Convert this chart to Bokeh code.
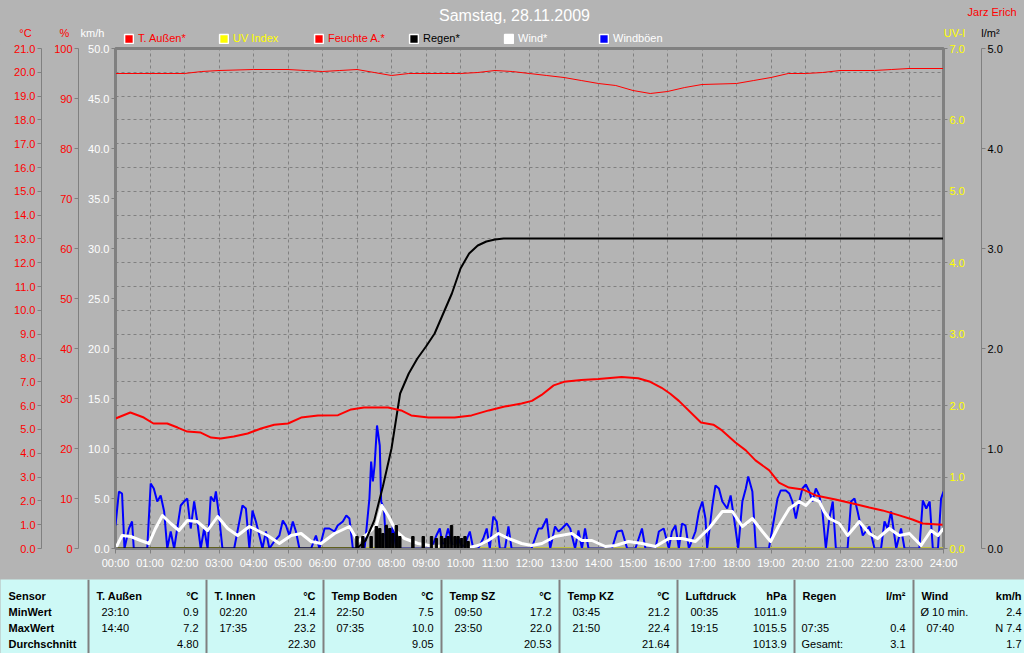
from bokeh.plotting import figure
from bokeh.models import (Range1d, LinearAxis, SingleIntervalTicker, FixedTicker,
                          PrintfTickFormatter, Label, Legend, LegendItem, Grid)
from bokeh.layouts import column
from bokeh.embed import file_html
from bokeh.resources import INLINE
from bokeh.core.properties import value

# ---------------- data ----------------
hour_ticks = [0, 1, 2, 3, 4, 5, 6, 7, 8, 9, 10, 11, 12, 13, 14, 15, 16, 17, 18, 19, 20, 21, 22, 23, 24]
hour_labels = ["00:00", "01:00", "02:00", "03:00", "04:00", "05:00", "06:00", "07:00", "08:00",
               "09:00", "10:00", "11:00", "12:00", "13:00", "14:00", "15:00", "16:00", "17:00",
               "18:00", "19:00", "20:00", "21:00", "22:00", "23:00", "24:00"]

# T. Außen (°C)
temp_t = [0.0, 0.43, 0.82, 1.1, 1.5, 1.8, 2.08, 2.47, 2.77, 3.05, 3.43, 3.83, 4.22, 4.6, 5.0, 5.38,
          5.87, 6.45, 6.83, 7.2, 7.9, 8.28, 8.57, 9.07, 9.83, 10.32, 10.82, 11.28, 11.77, 12.07,
          12.35, 12.7, 13.0, 13.5, 14.0, 14.67, 15.15, 15.5, 15.83, 16.08, 16.33, 16.97, 17.33,
          17.58, 17.97, 18.27, 18.55, 18.95, 19.23, 19.52, 19.92, 20.3, 20.87, 21.37, 21.85,
          22.23, 22.72, 23.1, 23.4, 23.97]
temp_v = [5.46, 5.71, 5.5, 5.25, 5.25, 5.08, 4.91, 4.87, 4.66, 4.62, 4.7, 4.83, 5.04, 5.2, 5.25, 5.5,
          5.59, 5.6, 5.84, 5.92, 5.92, 5.8, 5.59, 5.5, 5.5, 5.59, 5.8, 5.96, 6.09, 6.2,
          6.45, 6.85, 7.0, 7.08, 7.12, 7.2, 7.15, 7.0, 6.75, 6.5, 6.2, 5.29, 5.2,
          4.96, 4.45, 4.12, 3.7, 3.28, 2.77, 2.56, 2.48, 2.23, 2.06, 1.89, 1.72,
          1.6, 1.39, 1.22, 1.05, 1.0]

# Feuchte A. (%)
hum_t = [0, 1.0, 2.0, 2.5, 3.0, 4.0, 5.0, 5.5, 6.0, 6.5, 7.0, 7.5, 8.0, 8.5, 9.0, 10.0, 10.5, 11.0,
         11.5, 12.0, 12.5, 13.0, 13.5, 14.0, 14.5, 15.0, 15.5, 16.0, 16.5, 17.0, 18.0, 18.5, 19.0,
         19.5, 20.0, 20.5, 21.0, 22.0, 22.5, 23.0, 24.0]
hum_v = [95.0, 95.0, 95.0, 95.4, 95.6, 95.8, 95.8, 95.6, 95.4, 95.6, 95.8, 95.2, 94.6, 95.0, 95.0,
         95.0, 95.2, 95.6, 95.4, 95.0, 94.6, 94.2, 93.6, 93.0, 92.6, 91.6, 91.0, 91.4, 92.2, 92.8,
         93.0, 93.6, 94.2, 95.0, 95.0, 95.2, 95.6, 95.6, 95.8, 96.0, 96.0]

# Regen (l/m², cumulative)
rain_sum_t = [0, 7.0, 7.25, 7.5, 7.75, 8.0, 8.25, 8.5, 8.75, 9.0, 9.25, 9.5, 9.75, 10.0, 10.25,
              10.5, 10.75, 11.0, 11.25, 24.0]
rain_sum_v = [0, 0, 0.08, 0.28, 0.62, 1.0, 1.55, 1.75, 1.9, 2.02, 2.15, 2.35, 2.55, 2.8, 2.95,
              3.03, 3.07, 3.09, 3.1, 3.1]

# Regen (l/m², per interval)
rain_t = [7.0, 7.17, 7.41, 7.56, 7.66, 7.75, 7.85, 7.95, 8.04, 8.14, 8.24, 8.62, 8.92, 9.16,
          9.3, 9.45, 9.55, 9.64, 9.74, 9.84, 9.93, 10.03, 10.13, 10.22]
rain_v = [0.12, 0.12, 0.12, 0.22, 0.2, 0.15, 0.23, 0.2, 0.15, 0.23, 0.12, 0.12, 0.12, 0.12,
          0.1, 0.12, 0.1, 0.12, 0.23, 0.12, 0.12, 0.1, 0.12, 0.07]

# Wind (km/h)
wind_t = [0.0, 0.19, 0.44, 0.73, 0.97, 1.16, 1.36, 1.6, 1.84, 2.08, 2.37, 2.67, 2.96, 3.25, 3.54,
          3.88, 4.12, 4.41, 4.75, 5.09, 5.38, 5.67, 5.96, 6.35, 6.78, 7.03, 7.32, 7.56, 7.72, 7.9,
          8.14, 8.38, 8.77, 9.25, 9.64, 10.13, 10.51, 10.8, 11.1, 11.39, 11.77, 12.06, 12.36,
          12.74, 13.23, 13.52, 13.81, 14.2, 14.49, 14.87, 15.26, 15.65, 16.04, 16.42, 16.81,
          17.2, 17.59, 17.88, 18.17, 18.46, 18.75, 18.99, 19.23, 19.53, 19.82, 20.01, 20.2,
          20.4, 20.54, 20.69, 20.98, 21.22, 21.56, 21.85, 22.09, 22.43, 22.72, 23.01, 23.35,
          23.64, 23.84, 24.0]
wind_v = [0, 1.3, 1.2, 0.8, 0.5, 2.0, 3.3, 2.5, 1.8, 2.8, 2.7, 1.8, 3.2, 2.0, 1.3,
          2.2, 1.8, 1.3, 0.5, 1.3, 1.5, 0.7, 0.5, 1.5, 2.2, 0.7, 1.5, 2.3, 4.3, 3.3,
          1.7, 1.0, 0.5, 0.2, 0.3, 0, 0.3, 0.8, 1.5, 1.0, 0.5, 0.3, 0.5,
          1.2, 1.5, 0.8, 0.8, 0.2, 0.3, 0.7, 0.5, 0.2, 1.0, 1.0, 0.7,
          2.0, 3.7, 3.7, 2.2, 3.0, 1.7, 0.7, 2.3, 4.0, 4.7, 4.3, 5.0,
          4.7, 3.7, 3.0, 2.5, 1.3, 2.7, 1.5, 1.0, 2.0, 1.3, 1.5, 0.3,
          1.8, 1.3, 2.0]

# Windböen (km/h)
gust_t = [0.0, 0.1, 0.19, 0.26, 0.39, 0.48, 0.53, 0.92, 1.02, 1.11, 1.21, 1.31, 1.41, 1.5, 1.6,
          1.7, 1.79, 1.89, 1.99, 2.08, 2.18, 2.28, 2.37, 2.47, 2.57, 2.67, 2.76, 2.86, 2.91, 3.0,
          3.1, 3.44, 3.59, 3.68, 3.78, 3.88, 3.97, 4.07, 4.17, 4.26, 4.36, 4.46, 4.6, 4.75, 4.85,
          4.94, 5.04, 5.14, 5.23, 5.33, 5.67, 5.81, 5.91, 6.06, 6.2, 6.35, 6.44, 6.59, 6.69, 6.78,
          6.88, 7.22, 7.36, 7.41, 7.46, 7.51, 7.58, 7.66, 7.7, 7.78, 7.85, 7.95, 8.04, 8.14, 9.16,
          9.3, 9.4, 9.5, 9.64, 9.79, 9.93, 10.08, 10.27, 10.37, 10.51, 10.66, 10.76, 10.85, 10.95,
          11.05, 11.14, 11.29, 11.39, 11.48, 12.06, 12.26, 12.36, 12.5, 12.6, 12.74, 12.84, 12.94,
          13.08, 13.18, 13.32, 13.42, 13.52, 13.61, 13.71, 14.39, 14.54, 14.68, 14.83, 15.07,
          15.26, 15.36, 15.65, 15.75, 15.89, 16.04, 16.13, 16.23, 16.33, 16.42, 16.52, 16.62,
          16.81, 16.91, 17.01, 17.1, 17.15, 17.3, 17.39, 17.49, 17.59, 17.73, 17.83, 17.93, 18.05,
          18.17, 18.27, 18.34, 18.46, 18.56, 18.94, 19.09, 19.19, 19.28, 19.43, 19.53, 19.62,
          19.72, 19.82, 19.91, 20.01, 20.11, 20.2, 20.3, 20.4, 20.49, 20.59, 20.69, 20.79, 20.88,
          21.22, 21.32, 21.42, 21.51, 21.66, 21.85, 22.0, 22.19, 22.29, 22.38, 22.48, 22.63,
          22.77, 22.87, 23.3, 23.4, 23.5, 23.6, 23.69, 23.84, 23.93, 24.0]
gust_v = [2.3, 5.7, 5.5, 0, 2.0, 2.7, 0, 0, 6.5, 6.0, 4.7, 5.3, 3.7, 0, 1.7,
          0, 2.0, 4.3, 4.7, 5.0, 2.0, 4.7, 2.7, 0, 2.0, 0, 5.2, 4.7, 5.7, 3.3,
          0, 0, 2.7, 4.3, 4.0, 0, 3.8, 2.7, 1.3, 0, 1.7, 0, 0.7, 1.3, 2.8,
          2.3, 1.3, 2.7, 1.7, 0, 0, 1.3, 0, 2.0, 2.0, 1.7, 2.3, 2.7, 3.3, 3.0,
          0, 0, 5.0, 8.7, 6.7, 8.3, 12.3, 10.3, 4.7, 4.0, 0, 0, 2.3, 0, 0,
          1.3, 2.0, 0, 2.0, 0, 1.0, 0, 1.7, 0, 0, 1.0, 2.0, 0, 3.2,
          2.7, 0, 0, 2.2, 0, 0, 2.0, 2.0, 3.0, 0, 2.2, 1.7, 2.0,
          2.5, 2.0, 0, 1.8, 0, 2.0, 0, 0, 1.7, 1.8, 0, 0,
          2.0, 0, 0, 1.7, 2.0, 0, 1.7, 2.3, 0, 2.5, 2.3, 0,
          1.7, 3.7, 4.7, 3.0, 0, 4.3, 6.3, 6.0, 4.7, 4.0, 5.3, 3.0, 0,
          4.7, 6.0, 7.2, 5.7, 0, 0, 3.0, 5.0, 5.8, 5.8, 5.5, 4.7,
          3.0, 4.7, 6.0, 6.4, 5.7, 4.7, 6.0, 5.3, 3.7, 0, 3.0, 4.7, 0,
          0, 4.7, 5.0, 3.7, 1.3, 2.2, 0, 0, 2.7, 2.0, 3.7, 0,
          2.0, 0, 0, 4.8, 4.0, 4.7, 0, 0, 5.0, 5.7]

# UV Index
uv_t = [0, 24]
uv_v = [0.0, 0.0]

# table
table_heads = ["Sensor", "T. Außen", "T. Innen", "Temp Boden", "Temp SZ", "Temp KZ", "Luftdruck", "Regen", "Wind"]
table_units = ["", "°C", "°C", "°C", "°C", "°C", "hPa", "l/m²", "km/h"]
row_names = ["MinWert", "MaxWert", "Durchschnitt"]
min_time = ["23:10", "02:20", "22:50", "09:50", "03:45", "00:35", "", "Ø 10 min."]
min_val = ["0.9", "21.4", "7.5", "17.2", "21.2", "1011.9", "", "2.4"]
max_time = ["14:40", "17:35", "07:35", "23:50", "21:50", "19:15", "07:35", "07:40"]
max_val = ["7.2", "23.2", "10.0", "22.0", "22.4", "1015.5", "0.4", "N 7.4"]
avg_time = ["", "", "", "", "", "", "Gesamt:", ""]
avg_val = ["4.80", "22.30", "9.05", "20.53", "21.64", "1013.9", "3.1", "1.7"]

# ---------------- styling ----------------
FONT = "Liberation Sans"
BG = "#B4B4B4"
GRAY = "#808080"
CYAN = "#CDF9F6"
W = 1024
HEAD_H = 44
CHART_H = 535
TABLE_H = 74
NAN = float("nan")

# ---------------- header strip (title, legend, units) ----------------
h = figure(width=W, height=HEAD_H, x_range=Range1d(0, W), y_range=Range1d(0, HEAD_H),
           output_backend="svg", toolbar_location=None, x_axis_location=None,
           y_axis_location=None, min_border=0, background_fill_color=BG,
           border_fill_color=BG, outline_line_color=None)
h.frame_align = False
h.xgrid.visible = False
h.ygrid.visible = False


def add_label(x, y, text, color, size="11px", align="center"):
    h.add_layout(Label(x=x, y=y, x_units="screen", y_units="screen", text=text,
                       text_color=color, text_font=FONT, text_font_size=size,
                       text_align=align, text_baseline="middle"))


add_label(514, 29.5, "Samstag, 28.11.2009", "white", "16px")
add_label(1016, 33, "Jarz Erich", "red", "11px", "right")
add_label(25, 11.5, "°C", "red")
add_label(64, 11.5, "%", "red")
add_label(92, 11.5, "km/h", "white")
add_label(954, 11.5, "UV-I", "yellow")
add_label(990, 11.5, "l/m²", "black")

legend_entries = [("T. Außen*", "red", "red"), ("UV Index", "yellow", "yellow"),
                  ("Feuchte A.*", "red", "red"), ("Regen*", "black", "black"),
                  ("Wind*", "white", "white"), ("Windböen", "#0000FF", "white")]
for i, (lab, fill, tcol) in enumerate(legend_entries):
    dummy = h.quad(left=[NAN], right=[NAN], top=[NAN], bottom=[NAN], fill_color=fill,
                   line_color="white", line_width=1.5)
    lg = Legend(items=[LegendItem(label=lab, renderers=[dummy])],
                location=(123 + 95 * i, 0), orientation="horizontal",
                glyph_width=11, glyph_height=11, label_standoff=4, label_height=11,
                padding=0, margin=0, spacing=0, border_line_color=None,
                background_fill_alpha=0, label_text_color=tcol,
                label_text_font=FONT, label_text_font_size="11px")
    h.add_layout(lg)

# ---------------- chart ----------------
p = figure(width=W, height=CHART_H, x_range=Range1d(0, 24), y_range=Range1d(0, 50),
           output_backend="svg", toolbar_location=None, y_axis_location=None,
           min_border_left=115, min_border_right=81, min_border_top=4, min_border_bottom=31,
           background_fill_color=BG, border_fill_color=BG,
           outline_line_color=GRAY, outline_line_width=3)
p.frame_align = False
p.extra_y_ranges = {"temp": Range1d(0, 21), "hum": Range1d(0, 100),
                    "uv": Range1d(0, 7), "rain": Range1d(0, 5)}
p.ygrid.visible = False


def style_axis(ax, color, fmt, interval, pad):
    ax.ticker = SingleIntervalTicker(interval=interval, num_minor_ticks=0)
    ax.formatter = PrintfTickFormatter(format=fmt)
    ax.axis_line_color = GRAY
    ax.major_tick_line_color = GRAY
    ax.major_tick_in = 0
    ax.major_tick_out = 4
    ax.minor_tick_line_color = None
    ax.minor_tick_in = 0
    ax.minor_tick_out = 0
    ax.major_label_text_color = color
    ax.major_label_text_font = FONT
    ax.major_label_text_font_size = "11px"
    ax.major_label_standoff = 2
    if pad is not None:
        ax.axis_label = " "
        ax.axis_label_text_font_size = "1px"
        ax.axis_label_standoff = pad


ax_kmh = LinearAxis()
style_axis(ax_kmh, "white", "%.1f", 5, 2)
p.add_layout(ax_kmh, "left")
ax_hum = LinearAxis(y_range_name="hum")
style_axis(ax_hum, "red", "%d", 10, 6)
p.add_layout(ax_hum, "left")
ax_temp = LinearAxis(y_range_name="temp")
style_axis(ax_temp, "red", "%.1f", 1, None)
p.add_layout(ax_temp, "left")
ax_uv = LinearAxis(y_range_name="uv")
style_axis(ax_uv, "yellow", "%.1f", 1, 10)
p.add_layout(ax_uv, "right")
ax_rain = LinearAxis(y_range_name="rain")
style_axis(ax_rain, "black", "%.1f", 1, None)
p.add_layout(ax_rain, "right")

xa = p.xaxis[0]
xa.ticker = FixedTicker(ticks=hour_ticks)
xa.major_label_overrides = {hh: lab for hh, lab in zip(hour_ticks, hour_labels)}
xa.axis_line_color = GRAY
xa.major_tick_line_color = GRAY
xa.major_tick_in = 0
xa.major_tick_out = 5
xa.minor_tick_line_color = None
xa.major_label_text_color = "white"
xa.major_label_text_font = FONT
xa.major_label_text_font_size = "11px"
xa.major_label_standoff = 3

p.xgrid.ticker = FixedTicker(ticks=hour_ticks)
p.xgrid.grid_line_color = GRAY
p.xgrid.grid_line_dash = "3 3"
ygrid = Grid(dimension=1, ticker=SingleIntervalTicker(interval=1), y_range_name="temp",
             grid_line_color=GRAY, grid_line_dash="3 3")
p.add_layout(ygrid)

# series
p.line(uv_t, uv_v, y_range_name="uv", color="yellow", line_width=2)
p.line(gust_t, gust_v, color="#0000FF", line_width=2)
p.line(wind_t, wind_v, color="white", line_width=3, line_join="round")
p.vbar(x=rain_t, top=rain_v, width=0.07, y_range_name="rain", color="black")
p.line(rain_sum_t, rain_sum_v, y_range_name="rain", color="black", line_width=2)
p.line(hum_t, hum_v, y_range_name="hum", color="red", line_width=1)
p.line(temp_t, temp_v, y_range_name="temp", color="red", line_width=2)

# ---------------- table ----------------
t = figure(width=W, height=TABLE_H, x_range=Range1d(0, W), y_range=Range1d(0, TABLE_H),
           output_backend="svg", toolbar_location=None, x_axis_location=None,
           y_axis_location=None, min_border=0, background_fill_color=CYAN,
           border_fill_color=CYAN, outline_line_color=None)
t.frame_align = False
t.xgrid.visible = False
t.ygrid.visible = False

col_edges = [0, 88, 206, 323, 441, 559, 677, 794, 913, 1029]
row_y = [58, 42, 26, 10]
seps = col_edges[1:-1]
t.segment(x0=seps, y0=[0] * len(seps), x1=seps, y1=[TABLE_H] * len(seps), color=GRAY, line_width=2)

txt = dict(text_font=value(FONT), text_font_size="11px", text_color="black", text_baseline="middle")
t.text(x=[8], y=[row_y[0]], text=[table_heads[0]], text_font_style="bold", **txt)
t.text(x=[8] * 3, y=row_y[1:], text=row_names, text_font_style="bold", **txt)
lefts = col_edges[1:-1]
rights = col_edges[2:]
t.text(x=[l + 8 for l in lefts], y=[row_y[0]] * 8, text=table_heads[1:], text_font_style="bold", **txt)
t.text(x=[r - 8 for r in rights], y=[row_y[0]] * 8, text=table_units[1:], text_font_style="bold",
       text_align="right", **txt)
for yy, times, vals in zip(row_y[1:], [min_time, max_time, avg_time], [min_val, max_val, avg_val]):
    xs = [l + (7 if (tm in ("Ø 10 min.", "Gesamt:") or i == 6) else 13)
          for i, (l, tm) in enumerate(zip(lefts, times))]
    t.text(x=xs, y=[yy] * 8, text=times, **txt)
    t.text(x=[r - 8 for r in rights], y=[yy] * 8, text=vals, text_align="right", **txt)

layout = column(h, p, t, spacing=0, styles={"background-color": BG})
open("out.html", "w").write(file_html(layout, INLINE))
